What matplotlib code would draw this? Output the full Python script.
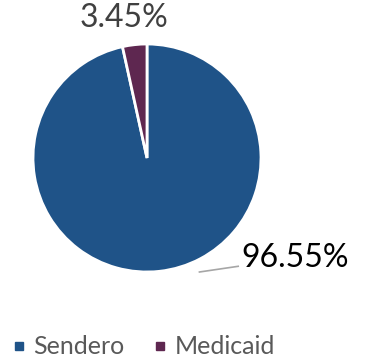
import numpy as np
import matplotlib.pyplot as plt
from matplotlib.lines import Line2D

plt.rcParams['font.family'] = ['Lato', 'DejaVu Sans']

labels = ['Sendero', 'Medicaid']
shares = [96.55, 3.45]
colors = ['#1F5388', '#5E2750']

fig = plt.figure(figsize=(3.83, 3.61), dpi=100)
ax = fig.add_axes([33 / 383, 89 / 361, 228 / 383, 228 / 361])

wedges, _ = ax.pie(shares, colors=colors, startangle=90, counterclock=False,
                   radius=1.0, wedgeprops=dict(edgecolor='white', linewidth=2))
ax.set_xlim(-1, 1)
ax.set_ylim(-1, 1)
ax.set_aspect('equal')
ax.axis('off')

# value labels
ax.text(-0.20, 1.23, f'{shares[1]:.2f}%', ha='center', va='center',
        fontsize=23, color='#404040', clip_on=False)
ax.text(1.30, -0.88, f'{shares[0]:.2f}%', ha='center', va='center',
        fontsize=23, color='black', clip_on=False)
ax.plot([0.46, 0.80], [-1.0, -0.95], color='#A6A6A6', lw=1.2, clip_on=False)

handles = [Line2D([], [], marker='s', ls='none', color=c, markersize=6) for c in colors]
leg = fig.legend(handles, labels, loc='center left', bbox_to_anchor=(-9 / 383, 1 - 347 / 361),
                 ncol=2, frameon=False, fontsize=18, handletextpad=0.1,
                 columnspacing=0.9, labelcolor='#595959', handlelength=1.0,
                 borderaxespad=0.2)

fig.savefig('out.png', dpi=100)
